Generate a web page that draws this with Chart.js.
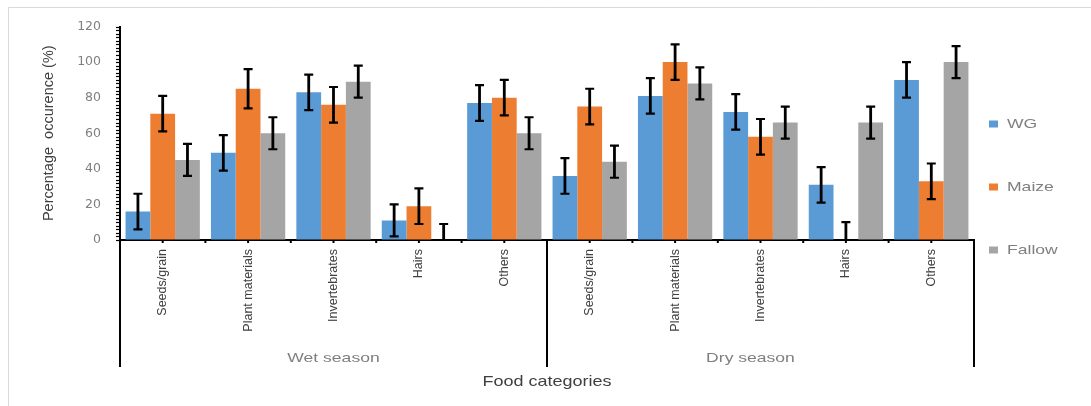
<!DOCTYPE html>
<html>
<head>
<meta charset="utf-8">
<title>Percentage occurrence of food categories</title>
<script src="https://cdn.jsdelivr.net/npm/chart.js@4/dist/chart.umd.min.js"></script>
<style>
  html, body { margin: 0; padding: 0; background: #ffffff; }
  #wrap { width: 1091px; height: 406px; }
</style>
</head>
<body>
<div id="wrap"><canvas id="chart" width="1091" height="406"></canvas></div>
<script>
// Food categories, repeated for each season
const foodTypes = ["Seeds/grain", "Plant materials", "Invertebrates", "Hairs", "Others"];
const seasons = ["Wet season", "Dry season"];
const categories = seasons.flatMap(() => foodTypes);

// Percentage occurrence per land-use type (wet season first, then dry season)
const seriesNames = ["WG", "Maize", "Fallow"];
const wgValues     = [16, 49, 83, 11, 77, 36, 81, 72, 31, 90];
const maizeValues  = [71, 85, 76, 19, 80, 75, 100, 58, 0, 33];
const fallowValues = [45, 60, 89, 0, 60, 44, 88, 66, 66, 100];

// Error bar half-lengths
const wgErrors     = [10, 10, 10, 9, 10, 10, 10, 10, 10, 10];
const maizeErrors  = [10, 11, 10, 10, 10, 10, 10, 10, 10, 10];
const fallowErrors = [9, 9, 9, 9, 9, 9, 9, 9, 9, 9];

// Y axis ticks
const yTicks = [0, 20, 40, 60, 80, 100, 120];

const seriesColors = ["#5B9BD5", "#ED7D31", "#A5A5A5"];
const seriesValues = [wgValues, maizeValues, fallowValues];
const seriesErrors = [wgErrors, maizeErrors, fallowErrors];

// Draw horizontally stretched text
function wideText(ctx, text, x, y, font, color, stretch, align) {
  ctx.save();
  ctx.font = font;
  ctx.fillStyle = color;
  ctx.textBaseline = "middle";
  ctx.textAlign = align || "center";
  ctx.translate(x, y);
  ctx.scale(stretch, 1);
  ctx.fillText(text, 0, 0);
  ctx.restore();
}

const frame = {
  id: "frame",
  beforeDraw(chart) {
    const ctx = chart.ctx;
    ctx.save();
    ctx.fillStyle = "#ffffff";
    ctx.fillRect(0, 0, chart.width, chart.height);
    ctx.strokeStyle = "#d9d9d9";
    ctx.lineWidth = 1;
    ctx.beginPath();
    ctx.moveTo(8.5, chart.height);
    ctx.lineTo(8.5, 7.5);
    ctx.lineTo(chart.width, 7.5);
    ctx.stroke();
    ctx.restore();
  }
};

const errorBars = {
  id: "errorBars",
  afterDatasetsDraw(chart) {
    const {ctx, chartArea: a, scales: {y}} = chart;
    ctx.save();
    ctx.beginPath();
    ctx.rect(a.left, a.top - 20, a.right - a.left, a.bottom - a.top + 20);
    ctx.clip();
    ctx.strokeStyle = "#000000";
    chart.data.datasets.forEach((ds, di) => {
      const meta = chart.getDatasetMeta(di);
      meta.data.forEach((bar, i) => {
        const v = ds.data[i];
        const e = seriesErrors[di][i];
        const top = y.getPixelForValue(v + e);
        const bottom = y.getPixelForValue(v - e);
        const cx = bar.x;
        ctx.lineWidth = 2.8;
        ctx.beginPath();
        ctx.moveTo(cx, top);
        ctx.lineTo(cx, bottom);
        ctx.stroke();
        ctx.lineWidth = 2.2;
        ctx.beginPath();
        ctx.moveTo(cx - 4.5, top);
        ctx.lineTo(cx + 4.5, top);
        ctx.moveTo(cx - 4.5, bottom);
        ctx.lineTo(cx + 4.5, bottom);
        ctx.stroke();
      });
    });
    ctx.restore();
  }
};

const axisDecor = {
  id: "axisDecor",
  afterDraw(chart) {
    const {ctx, chartArea: a, scales: {x, y}} = chart;
    ctx.save();
    ctx.strokeStyle = "#000000";
    ctx.lineWidth = 1.2;
    // minor ticks on the value axis
    for (let v = yTicks[0]; v <= yTicks[yTicks.length - 1]; v += 2) {
      const py = Math.round(y.getPixelForValue(v)) + 0.5;
      ctx.beginPath();
      ctx.moveTo(a.left - 4, py);
      ctx.lineTo(a.left, py);
      ctx.stroke();
    }
    // category ticks (boundaries and centres)
    const n = categories.length;
    const w = (a.right - a.left) / n;
    ctx.lineWidth = 2;
    for (let i = 0; i <= n; i++) {
      const bx = a.left + i * w;
      ctx.beginPath();
      ctx.moveTo(bx, a.bottom);
      ctx.lineTo(bx, a.bottom + 3);
      ctx.stroke();
      if (i < n) {
        const cx = x.getPixelForValue(i);
        ctx.beginPath();
        ctx.moveTo(cx, a.bottom);
        ctx.lineTo(cx, a.bottom + 3);
        ctx.stroke();
      }
    }
    // season dividers
    ctx.lineWidth = 2;
    const per = foodTypes.length;
    for (let s = 0; s <= seasons.length; s++) {
      const bx = Math.round(a.left + s * per * w);
      ctx.beginPath();
      ctx.moveTo(bx, a.bottom);
      ctx.lineTo(bx, a.bottom + 127);
      ctx.stroke();
    }
    // season labels, slightly left of each group's centre
    const labelShift = [0, -10];
    seasons.forEach((name, s) => {
      const cx = a.left + (s * per + per / 2) * w + labelShift[s];
      wideText(ctx, name, cx, a.bottom + 118, "13px 'Liberation Sans'", "#7f7f7f", 1.35);
    });
    // category axis title
    wideText(ctx, "Food categories", (a.left + a.right) / 2, a.bottom + 142, "15px 'Liberation Sans'", "#404040", 1.2);
    // legend
    seriesNames.forEach((name, i) => {
      const ly = [124, 187, 250][i];
      ctx.fillStyle = seriesColors[i];
      ctx.fillRect(a.right + 15, ly - 3.5, 9, 7);
      wideText(ctx, name, a.right + 33, ly, "13px 'Liberation Sans'", "#7f7f7f", 1.35, "left");
    });
    ctx.restore();
  }
};

new Chart(document.getElementById("chart"), {
  type: "bar",
  data: {
    labels: categories,
    datasets: seriesNames.map((name, i) => ({
      label: name,
      data: seriesValues[i],
      backgroundColor: seriesColors[i],
      borderWidth: 0,
      categoryPercentage: 0.87,
      barPercentage: 1.0
    }))
  },
  options: {
    responsive: false,
    animation: false,
    devicePixelRatio: 1,
    layout: { padding: { top: 25, right: 117, left: 0, bottom: 0 } },
    plugins: {
      legend: { display: false },
      tooltip: { enabled: false }
    },
    scales: {
      x: {
        offset: true,
        grid: { display: true, drawOnChartArea: false, drawTicks: false, offset: true, color: "rgba(0,0,0,0)" },
        border: { display: true, color: "#000000", width: 2 },
        ticks: {
          autoSkip: false,
          minRotation: 90,
          maxRotation: 90,
          padding: 9,
          color: "#404040",
          font: { family: "'Liberation Sans'", size: 12.5 }
        },
        afterFit(scale) { scale.height = 166; }
      },
      y: {
        min: yTicks[0],
        max: yTicks[yTicks.length - 1],
        afterBuildTicks(scale) { scale.ticks = yTicks.map(v => ({ value: v })); },
        grid: { display: true, drawOnChartArea: false, drawTicks: false, color: "rgba(0,0,0,0)" },
        border: { display: true, color: "#000000", width: 2 },
        ticks: {
          padding: 19,
          color: "#7f7f7f",
          font: { family: "'DejaVu Sans'", size: 12.5 }
        },
        title: {
          display: true,
          text: "Percentage  occurence (%)",
          color: "#404040",
          font: { family: "'Liberation Sans'", size: 14.5 },
          padding: { top: 40, bottom: 0 }
        },
        afterFit(scale) { scale.width = 120; }
      }
    }
  },
  plugins: [frame, errorBars, axisDecor]
});
</script>
</body>
</html>
